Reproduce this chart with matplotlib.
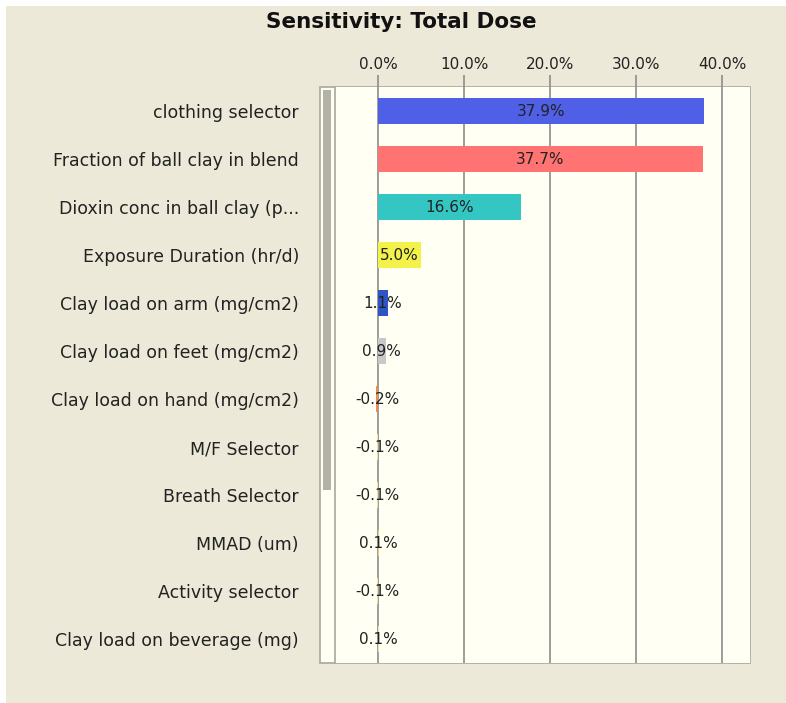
import matplotlib.pyplot as plt
from matplotlib.patches import Rectangle
import numpy as np

plt.rcParams['font.family'] = ['DejaVu Sans']

# data
factors = ["clothing selector", "Fraction of ball clay in blend", "Dioxin conc in ball clay (p...",
           "Exposure Duration (hr/d)", "Clay load on arm (mg/cm2)", "Clay load on feet (mg/cm2)",
           "Clay load on hand (mg/cm2)", "M/F Selector", "Breath Selector", "MMAD (um)",
           "Activity selector", "Clay load on beverage (mg)"]
sensitivity = [37.9, 37.7, 16.6, 5.0, 1.1, 0.9, -0.2, -0.1, -0.1, 0.1, -0.1, 0.1]
bar_colors = ["#4f5fe6", "#ff7373", "#33c6c2", "#f2f24a", "#2f55c4", "#c8c8c8",
              "#f08a50", "#f0e0a0", "#f0e0a0", "#f0d050", "#f0e0a0", "#f0e0a0"]
xticks = [0, 10, 20, 30, 40]

W, H = 786, 703
fig = plt.figure(figsize=(W / 100, H / 100), dpi=100, facecolor="white")

def fx(px):
    return px / W

def fy(py):
    return 1 - py / H

# beige window background
fig.patches.append(Rectangle((fx(6), 0), 1 - fx(6), fy(6), transform=fig.transFigure,
                             facecolor="#ece9d8", edgecolor="none", zorder=0))
# outer chart panel
fig.patches.append(Rectangle((fx(320), fy(663)), fx(750 - 320), (663 - 87) / H,
                             transform=fig.transFigure, facecolor="#fffff4",
                             edgecolor="#a8a8a0", linewidth=1.2, zorder=1))
# scrollbar strip
fig.patches.append(Rectangle((fx(323), fy(490)), fx(8), (490 - 90) / H,
                             transform=fig.transFigure, facecolor="#b4b1a6",
                             edgecolor="none", zorder=2))

ax = fig.add_axes([fx(335), fy(663), fx(750 - 335), (663 - 87) / H])
ax.set_facecolor("#fffff4")
ax.set_zorder(3)

y = np.arange(len(factors))
ax.set_xlim(-5, 43.2)
ax.set_ylim(len(factors) - 0.5, -0.5)

for xv in xticks:
    ax.axvline(xv, color="#8c8c8c", linewidth=1.2, zorder=1)

ax.barh(y, sensitivity, height=0.56, color=bar_colors, zorder=2)

for yi, v in zip(y, sensitivity):
    ax.text(v / 2, yi, f"{v:.1f}%", ha="center", va="center", fontsize=11,
            color="#222222", zorder=3)

ax.xaxis.tick_top()
ax.set_xticks(xticks)
ax.set_xticklabels([f"{t:.1f}%" for t in xticks], fontsize=11, color="#222222")
ax.tick_params(axis="x", length=9, width=1.2, color="#8c8c8c", pad=2)
ax.set_yticks(y)
ax.set_yticklabels(factors, fontsize=12.5, color="#222222")
ax.tick_params(axis="y", length=0, pad=26)

for s in ["top", "right", "bottom"]:
    ax.spines[s].set_visible(False)
ax.spines["left"].set_color("#a8a8a0")
ax.spines["left"].set_linewidth(1.2)

fig.text(fx(401), fy(22), "Sensitivity: Total Dose", ha="center", va="center",
         fontsize=15.5, fontweight="bold", color="#111111")

fig.savefig("out.png", dpi=100, facecolor=fig.get_facecolor())
